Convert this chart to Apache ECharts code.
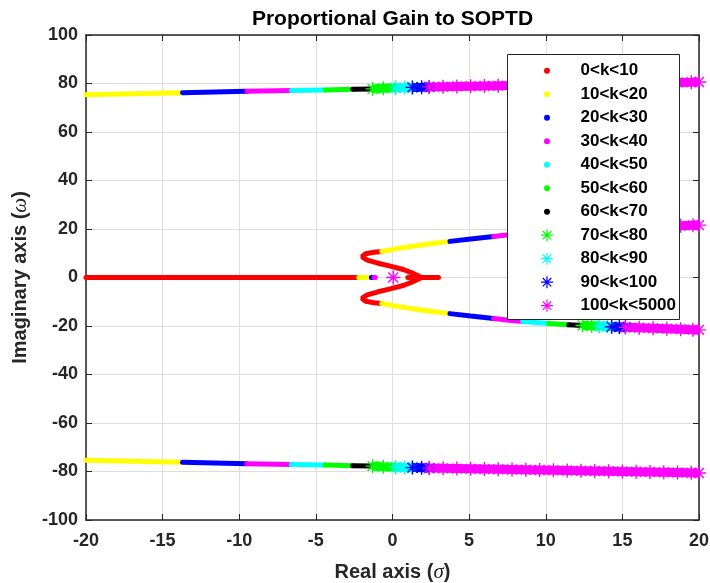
<!DOCTYPE html>
<html>
<head>
<meta charset="utf-8">
<title>Proportional Gain to SOPTD</title>
<script src="https://cdn.jsdelivr.net/npm/echarts@6/dist/echarts.min.js"></script>
<style>
html, body { margin: 0; padding: 0; background: #fff; }
#main { width: 710px; height: 583px; }
</style>
</head>
<body>
<div id="main"></div>
<script>
// gain ranges shown in the legend
var ranges = ['0<k<10', '10<k<20', '20<k<30', '30<k<40', '40<k<50', '50<k<60', '60<k<70',
              '70<k<80', '80<k<90', '90<k<100', '100<k<5000'];
var colors = ['#ff0000', '#ffff00', '#0000ff', '#ff00ff', '#00ffff', '#00ff00', '#000000',
              '#00ff00', '#00ffff', '#0000ff', '#ff00ff'];

// roots on the real axis, per range
var realRoots = [
    [[[-20, 0], [-2.2, 0]], [[1.0, 0], [3.0, 0]]],
    [[[-2.2, 0], [-1.5, 0]]],
    [[[-1.38, 0], [-1.3, 0]]],
    [[[-1.2, 0], [-1.12, 0]]],
    [], [], [], [], [], [],
    [[[0.05, 0]]]
];

// inner complex pair, upper half (lower half is the conjugate)
var innerRoots = [
    [[[1.9, 0], [1.35, 1.7], [0.7, 3.3], [-0.15, 4.7], [-1.0, 6.0], [-1.65, 7.2], [-2.0, 8.6], [-1.75, 9.8], [-1.2, 10.4], [-0.7, 10.7]]],
    [[[-0.7, 10.7], [0.3, 11.9], [1.4, 13.0], [2.6, 14.0], [3.75, 14.9]]],
    [[[3.75, 14.9], [5.1, 15.9], [6.6, 16.9]]],
    [[[6.6, 16.9], [7.6, 17.6], [8.5, 18.1]]],
    [[[8.5, 18.1], [10.2, 19.0]]],
    [[[10.2, 19.0], [11.5, 19.5]]],
    [[[11.5, 19.5], [12.4, 19.8]]],
    [[[12.4, 19.8], [13.0, 19.9], [13.5, 20.0]]],
    [[[13.5, 20.0], [14.0, 20.2], [14.3, 20.3]]],
    [[[14.3, 20.3], [14.8, 20.4], [15.2, 20.5]]],
    [[[15.2, 20.5], [16.1, 20.7], [17.0, 20.9], [17.9, 21.1], [18.8, 21.3], [19.6, 21.5], [20, 21.6]]]
];

// outer complex pair, upper half
var outerRoots = [
    [],
    [[[-20, 75.4], [-13.7, 76.2]]],
    [[[-13.7, 76.2], [-9.5, 76.8]]],
    [[[-9.5, 76.8], [-6.6, 77.1]]],
    [[[-6.6, 77.1], [-4.4, 77.3]]],
    [[[-4.4, 77.3], [-2.6, 77.6]]],
    [[[-2.6, 77.6], [-1.3, 77.7]]],
    [[[-1.3, 77.8], [-0.6, 78.0], [0.2, 78.2]]],
    [[[0.2, 78.2], [0.8, 78.3], [1.3, 78.4]]],
    [[[1.3, 78.4], [1.9, 78.5], [2.4, 78.6]]],
    [[[2.4, 78.6], [3.3, 78.7], [4.2, 78.8], [5.1, 78.9], [6.0, 79.0], [6.9, 79.1], [7.8, 79.2],
      [8.7, 79.3], [9.6, 79.4], [10.5, 79.5], [11.4, 79.6], [12.3, 79.7], [13.2, 79.8], [14.1, 79.9],
      [15.0, 80.0], [15.9, 80.1], [16.8, 80.2], [17.7, 80.3], [18.6, 80.4], [19.5, 80.5], [20, 80.6]]]
];

var FONT = 'Liberation Sans, Arial, Helvetica, sans-serif';
var INK = '#262626';
// '*' marker
var STAR = 'path://M-1 -10L1 -10L1 10L-1 10Z M-10 -1L10 -1L10 1L-10 1Z ' +
           'M-6.36 -7.78L7.78 6.36L6.36 7.78L-7.78 -6.36Z M-7.78 6.36L6.36 -7.78L7.78 -6.36L-6.36 7.78Z';

var series = [];
ranges.forEach(function (name, i) {
    var star = i >= 7;
    var parts = realRoots[i].slice();
    innerRoots[i].concat(outerRoots[i]).forEach(function (seg) {
        parts.push(seg);
        parts.push(seg.map(function (p) { return [p[0], -p[1]]; }));   // conjugate
    });
    parts.forEach(function (seg) {
        series.push({
            name: name,
            type: 'line',
            data: seg,
            color: colors[i],
            showSymbol: star,
            showAllSymbol: true,
            symbol: STAR,
            symbolSize: 14,
            lineStyle: { width: star ? 9 : 5, cap: star ? 'butt' : 'round', color: colors[i] },
            itemStyle: { color: colors[i], borderWidth: 0 },
            clip: !star,
            silent: true,
            animation: false
        });
    });
});

var legendText = { fontFamily: FONT, fontSize: 17, fontWeight: 'bold', color: '#000', lineHeight: 20 };

var myChart = echarts.init(document.getElementById('main'));
myChart.setOption({
    backgroundColor: '#fff',
    animation: false,
    title: {
        text: 'Proportional Gain to SOPTD',
        left: 392.5,
        textAlign: 'center',
        top: 9,
        padding: 0,
        textStyle: { fontFamily: FONT, fontSize: 21, fontWeight: 'bold', color: '#000' }
    },
    grid: { left: 86, right: 11, top: 35, bottom: 63, containLabel: false, outerBoundsMode: 'none' },
    xAxis: [{
        type: 'value', position: 'bottom', min: -20, max: 20, interval: 5,
        name: '{a|Real axis (}{b|σ}{a|)}', nameLocation: 'middle', nameGap: 42,
        nameTextStyle: {
            rich: {
                a: { fontFamily: FONT, fontSize: 20, fontWeight: 'bold', color: INK },
                b: { fontFamily: 'Liberation Serif, serif', fontSize: 21, fontStyle: 'italic', color: INK }
            }
        },
        axisLine: { show: true, onZero: false, lineStyle: { color: INK, width: 1.5 } },
        axisTick: { show: true, inside: true, length: 6, lineStyle: { color: INK } },
        axisLabel: { fontFamily: FONT, fontSize: 18, fontWeight: 'bold', color: INK, margin: 12 },
        splitLine: { show: true, lineStyle: { color: '#dedede', width: 1 } }
    }, {
        type: 'value', position: 'top', min: -20, max: 20, interval: 5,
        axisLine: { show: true, onZero: false, lineStyle: { color: INK, width: 1.5 } },
        axisTick: { show: true, inside: true, length: 6, lineStyle: { color: INK } },
        axisLabel: { show: false },
        splitLine: { show: false }
    }],
    yAxis: [{
        type: 'value', position: 'left', min: -100, max: 100, interval: 20,
        name: '{a|Imaginary axis (}{b|ω}{a|)}', nameLocation: 'middle', nameGap: 46,
        nameTextStyle: {
            rich: {
                a: { fontFamily: FONT, fontSize: 20, fontWeight: 'bold', color: INK },
                b: { fontFamily: 'Liberation Serif, serif', fontSize: 21, fontStyle: 'italic', color: INK }
            }
        },
        axisLine: { show: true, onZero: false, lineStyle: { color: INK, width: 1.5 } },
        axisTick: { show: true, inside: true, length: 6, lineStyle: { color: INK } },
        axisLabel: { fontFamily: FONT, fontSize: 18, fontWeight: 'bold', color: INK, margin: 8 },
        splitLine: { show: true, lineStyle: { color: '#dedede', width: 1 } }
    }, {
        type: 'value', position: 'right', min: -100, max: 100, interval: 20,
        axisLine: { show: true, onZero: false, lineStyle: { color: INK, width: 1.5 } },
        axisTick: { show: true, inside: true, length: 6, lineStyle: { color: INK } },
        axisLabel: { show: false },
        splitLine: { show: false }
    }],
    legend: [{
        data: ranges.slice(0, 7).map(function (n) { return { name: n, icon: 'circle' }; }),
        orient: 'vertical', left: 544, top: 60.7, padding: 0,
        itemWidth: 57, itemHeight: 6, itemGap: 3.5,
        selectedMode: false, itemStyle: { borderWidth: 0 },
        textStyle: legendText, z: 10
    }, {
        data: ranges.slice(7).map(function (n) { return { name: n, icon: STAR }; }),
        orient: 'vertical', left: 541, top: 225.2, padding: 0,
        itemWidth: 57, itemHeight: 12, itemGap: 3.5,
        selectedMode: false, itemStyle: { borderWidth: 0 },
        textStyle: legendText, z: 10
    }],
    graphic: [{
        type: 'rect', z: 9, silent: true,
        shape: { x: 507.5, y: 54.5, width: 172, height: 265 },
        style: { fill: '#fff', stroke: INK, lineWidth: 1 }
    }],
    series: series
});
</script>
</body>
</html>
